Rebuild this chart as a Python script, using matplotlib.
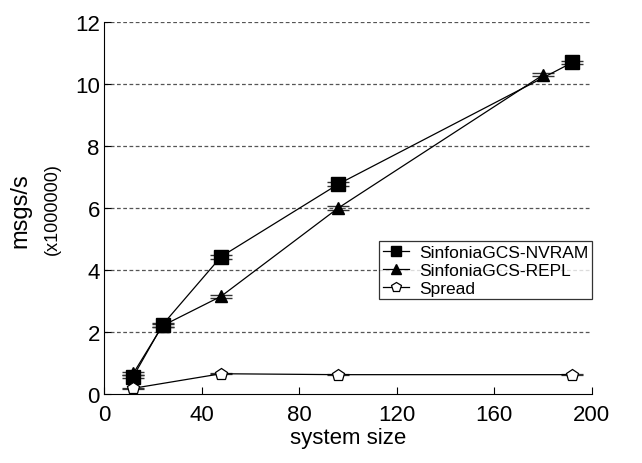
import matplotlib.pyplot as plt

plt.rcParams['font.family'] = ['Liberation Sans', 'DejaVu Sans']

# Data points
sizes_nvram = [12, 24, 48, 96, 192]
nvram = [0.56, 2.23, 4.43, 6.77, 10.7]
sizes_repl = [12, 24, 48, 96, 180]
repl = [0.66, 2.2, 3.15, 6.0, 10.3]
sizes_spread = [12, 48, 96, 192]
spread = [0.18, 0.65, 0.62, 0.62]
yticks = [0, 2, 4, 6, 8, 10, 12]
xticks = [0, 40, 80, 120, 160, 200]

fig = plt.figure(figsize=(6.42, 4.64), dpi=100)
ax = fig.add_axes([0.162, 0.149, 0.76, 0.801])

for y in yticks[1:]:
    ax.axhline(y, color='#555555', linestyle=(0, (3, 2)), linewidth=0.9, zorder=0)

e1 = ax.errorbar(sizes_nvram, nvram, yerr=0.06, color='black', marker='s', markersize=9.5,
                 linewidth=0.9, capsize=8, elinewidth=0.9, ecolor='#333333')
e2 = ax.errorbar(sizes_repl, repl, yerr=0.05, color='black', marker='^', markersize=8.5,
                 linewidth=0.9, capsize=8, elinewidth=0.9, ecolor='#333333')
e3 = ax.errorbar(sizes_spread, spread, yerr=0.02, color='black', marker='p', markersize=9,
                 markerfacecolor='white', markeredgewidth=0.9, linewidth=0.9, capsize=8,
                 elinewidth=0.9, ecolor='#333333')

ax.set_xlim(0, 200)
ax.set_ylim(0, 12)
ax.set_xticks(xticks)
ax.set_yticks(yticks)
ax.tick_params(direction='in', labelsize=16, length=5)
ax.tick_params(axis='x', pad=7)
ax.tick_params(axis='y', pad=3)
ax.spines['top'].set_visible(False)
ax.spines['right'].set_visible(False)

ax.set_xlabel('system size', fontsize=16, labelpad=2)
fig.text(0.032, 0.547, 'msgs/s', rotation=90, fontsize=17, ha='center', va='center')
fig.text(0.082, 0.55, '(x1000000)', rotation=90, fontsize=13, ha='center', va='center')

leg = ax.legend([e1[0], e2[0], e3[0]],
                ['SinfoniaGCS-NVRAM', 'SinfoniaGCS-REPL', 'Spread'],
                loc='lower right', bbox_to_anchor=(1.0, 0.255), fontsize=12.5,
                frameon=True, fancybox=False, edgecolor='black', handlelength=1.5,
                handletextpad=0.6, borderpad=0.2, labelspacing=0.15, borderaxespad=0,
                markerscale=0.8)
leg.get_frame().set_linewidth(0.9)

fig.savefig('out.png', dpi=100)
